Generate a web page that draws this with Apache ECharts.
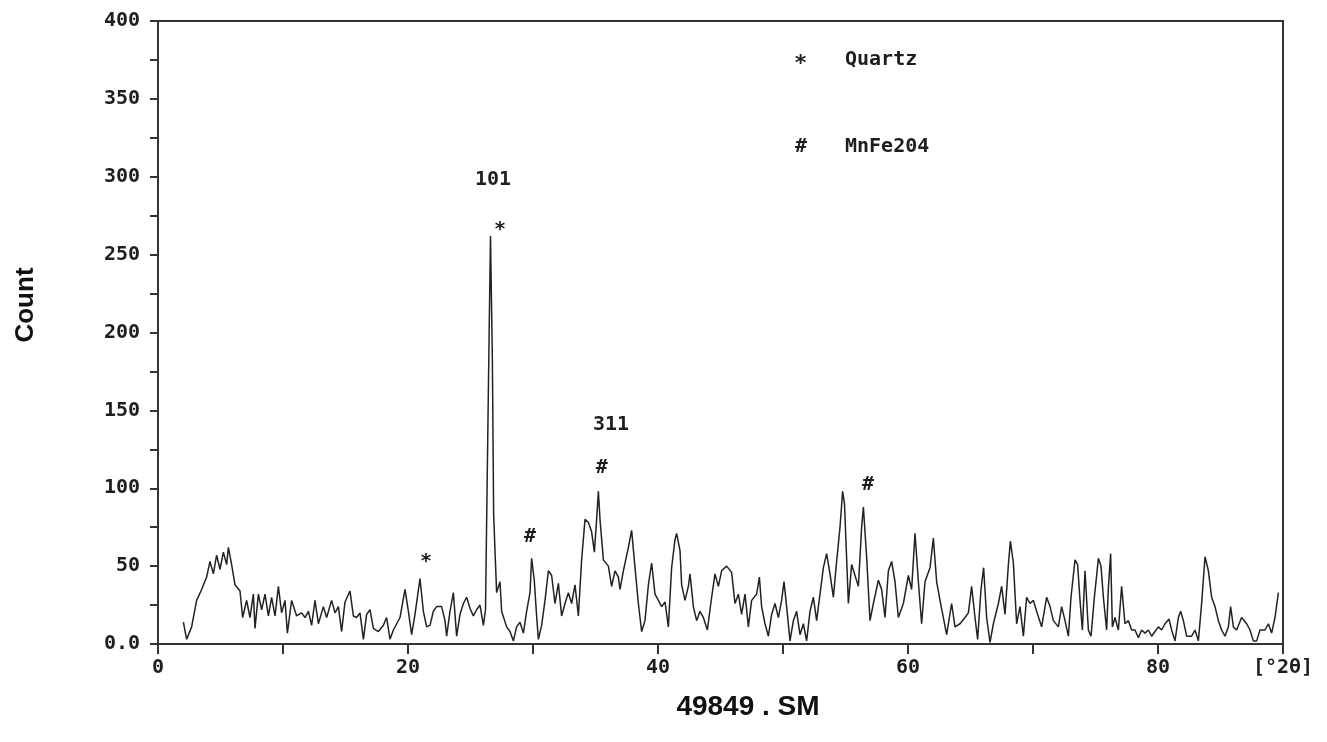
<html>
<head>
    <meta charset="utf-8" />
    <script src="https://cdn.jsdelivr.net/npm/echarts@6/dist/echarts.min.js"></script>
    <style>
        body { margin: 0; background: #fff; }
    </style>
</head>
<body>
    <div id="xrd" style="width: 1327px;height:742px;"></div>

    <script>
        // 2theta positions (deg) and counts
        var twoTheta = [
            2.03, 2.29, 2.69, 3.09, 3.49, 3.89, 4.16, 4.43, 4.69, 4.96, 5.23, 5.49, 5.63, 5.89, 6.16, 6.56, 6.77, 7.09, 7.36, 7.63,
            7.76, 8.03, 8.29, 8.56, 8.83, 9.09, 9.36, 9.63, 9.89, 10.16, 10.35, 10.69, 11.09, 11.49, 11.76, 12.03, 12.29, 12.56, 12.83, 13.23,
            13.49, 13.89, 14.16, 14.43, 14.69, 14.96, 15.36, 15.63, 15.89, 16.16, 16.43, 16.69, 16.96, 17.23, 17.63, 18.03, 18.29, 18.56, 18.83, 19.36,
            19.76, 20.03, 20.29, 20.56, 20.96, 21.23, 21.49, 21.76, 22.03, 22.29, 22.69, 22.96, 23.09, 23.36, 23.63, 23.89, 24.16, 24.43, 24.69, 24.96,
            25.23, 25.49, 25.76, 26.03, 26.2, 26.3, 26.5, 26.6, 26.75, 26.85, 26.95, 27.09, 27.36, 27.49, 27.89, 28.16, 28.43, 28.69, 28.96, 29.23,
            29.49, 29.76, 29.89, 30.1, 30.29, 30.43, 30.69, 30.96, 31.23, 31.49, 31.76, 32.03, 32.29, 32.56, 32.83, 33.09, 33.36, 33.63, 33.89, 34.16,
            34.43, 34.69, 34.91, 35.09, 35.23, 35.36, 35.63, 36.03, 36.29, 36.56, 36.83, 36.96, 37.23, 37.63, 37.89, 38.16, 38.43, 38.69, 38.96, 39.23,
            39.49, 39.76, 40.03, 40.29, 40.56, 40.83, 41.09, 41.36, 41.49, 41.76, 41.89, 42.16, 42.43, 42.56, 42.83, 43.09, 43.36, 43.63, 43.95, 44.29,
            44.56, 44.83, 45.09, 45.49, 45.89, 46.16, 46.43, 46.69, 46.96, 47.23, 47.49, 47.89, 48.11, 48.29, 48.56, 48.83, 49.09, 49.36, 49.63, 49.89,
            50.08, 50.29, 50.56, 50.83, 51.09, 51.36, 51.63, 51.89, 52.16, 52.43, 52.69, 52.96, 53.23, 53.49, 53.76, 54.03, 54.29, 54.56, 54.77, 54.92,
            55.23, 55.49, 55.76, 56.03, 56.29, 56.43, 56.69, 56.96, 57.23, 57.63, 57.89, 58.16, 58.43, 58.69, 58.96, 59.23, 59.63, 60.03, 60.29, 60.56,
            60.83, 61.09, 61.36, 61.76, 62.03, 62.29, 62.56, 62.83, 63.09, 63.49, 63.76, 64.16, 64.56, 64.83, 65.09, 65.36, 65.57, 65.84, 66.05, 66.29,
            66.56, 66.83, 67.23, 67.49, 67.76, 68.03, 68.19, 68.43, 68.69, 68.96, 69.23, 69.49, 69.76, 70.03, 70.29, 70.69, 71.09, 71.36, 71.63, 72.03,
            72.29, 72.56, 72.83, 73.04, 73.36, 73.57, 73.76, 73.95, 74.16, 74.43, 74.64, 74.91, 75.23, 75.44, 75.63, 75.89, 76.03, 76.21, 76.35, 76.56,
            76.83, 77.09, 77.36, 77.63, 77.89, 78.16, 78.43, 78.69, 78.96, 79.23, 79.49, 79.76, 80.03, 80.29, 80.56, 80.88, 81.09, 81.36, 81.63, 81.81,
            82.03, 82.29, 82.69, 82.96, 83.23, 83.49, 83.76, 84.03, 84.29, 84.56, 84.83, 85.09, 85.36, 85.63, 85.81, 86.03, 86.29, 86.69, 87.09, 87.36,
            87.63, 87.89, 88.16, 88.56, 88.83, 89.09, 89.36, 89.63
        ];
        var counts = [
            14, 3, 11, 28, 35, 43, 53, 45, 57, 48, 59, 51, 62, 51, 38, 34, 17, 28, 17, 32,
            10, 32, 22, 32, 18, 30, 18, 37, 20, 28, 7, 28, 18, 20, 17, 21, 12, 28, 13, 24,
            17, 28, 20, 24, 8, 27, 34, 18, 17, 20, 3, 19, 22, 10, 8, 12, 17, 3, 9, 17,
            35, 21, 6, 19, 42, 21, 11, 12, 21, 24, 24, 15, 5, 21, 33, 5, 19, 26, 30, 23,
            18, 22, 25, 12, 22, 84, 205, 262, 182, 84, 62, 33, 40, 21, 11, 8, 2, 11, 14, 7,
            21, 33, 55, 41, 18, 3, 12, 28, 47, 44, 26, 39, 18, 26, 33, 26, 38, 18, 54, 80,
            78, 72, 59, 80, 98, 80, 54, 50, 37, 47, 43, 35, 47, 62, 73, 49, 26, 8, 15, 38,
            52, 32, 28, 24, 27, 11, 49, 67, 71, 60, 38, 28, 37, 45, 24, 15, 21, 17, 9, 30,
            45, 37, 47, 50, 46, 26, 32, 19, 32, 11, 28, 32, 43, 24, 13, 5, 19, 26, 17, 28,
            40, 24, 2, 15, 21, 6, 13, 2, 21, 30, 15, 32, 49, 58, 45, 30, 53, 75, 98, 90,
            26, 51, 44, 37, 75, 88, 56, 15, 26, 41, 35, 17, 47, 53, 40, 17, 26, 44, 35, 71,
            40, 13, 40, 49, 68, 40, 28, 17, 6, 26, 11, 13, 17, 20, 37, 17, 3, 35, 49, 17,
            1, 13, 26, 37, 19, 51, 66, 52, 13, 24, 5, 30, 26, 28, 21, 11, 30, 24, 15, 11,
            24, 15, 5, 30, 54, 51, 28, 9, 47, 9, 5, 30, 55, 50, 30, 9, 36, 58, 11, 17,
            9, 37, 13, 15, 9, 9, 4, 9, 7, 9, 5, 8, 11, 9, 13, 16, 9, 2, 17, 21,
            15, 5, 5, 9, 2, 26, 56, 47, 30, 24, 15, 9, 5, 11, 24, 11, 9, 17, 13, 9,
            2, 2, 9, 9, 13, 7, 17, 33
        ];

        // peak markers / hkl labels
        var annoX = [21.44, 27.36, 26.8, 29.76, 35.5, 36.24, 56.8];
        var annoY = [56, 269, 298, 69, 113, 141, 102];
        var annoText = ['*', '*', '101', '#', '#', '311', '#'];

        var yTicks = [0, 50, 100, 150, 200, 250, 300, 350, 400];
        var xUnit = '[°2θ]';

        var monoFont = 'DejaVu Sans Mono';
        var ink = '#1e1e1e';

        var lineData = []
        for (var i = 0; i < twoTheta.length; i++) {
            lineData.push([twoTheta[i], counts[i]])
        }
        var annoData = []
        for (var j = 0; j < annoX.length; j++) {
            // the mono asterisk sits high in its box, nudge it down a little
            var dy = annoText[j] === '*' ? 5 : 0
            annoData.push({ value: [annoX[j], annoY[j]], name: annoText[j], label: { offset: [0, dy] } })
        }

        var option = {
            animation: false,
            backgroundColor: '#fff',
            grid: {
                left: 158,
                top: 21,
                right: 44,
                bottom: 98,
                show: true,
                borderColor: '#333',
                borderWidth: 2,
                containLabel: false,
                outerBoundsMode: 'none'
            },
            xAxis: {
                type: 'value',
                min: 0,
                max: 90,
                interval: 10,
                axisLine: { show: true, lineStyle: { color: '#333', width: 2 } },
                axisTick: { show: true, length: 10, lineStyle: { color: '#333', width: 2 } },
                splitLine: { show: false },
                axisLabel: {
                    margin: 14,
                    showMinLabel: true,
                    showMaxLabel: true,
                    hideOverlap: false,
                    color: ink,
                    fontFamily: monoFont,
                    fontWeight: 'bold',
                    fontSize: 20,
                    formatter: function (v) {
                        if (v === 90) return xUnit
                        return v % 20 === 0 ? String(v) : ''
                    }
                }
            },
            yAxis: {
                type: 'value',
                min: yTicks[0],
                max: yTicks[yTicks.length - 1],
                interval: 50,
                axisLine: { show: true, lineStyle: { color: '#333', width: 2 } },
                axisTick: { show: true, length: 8, lineStyle: { color: '#333', width: 2 } },
                minorTick: { show: true, splitNumber: 2, length: 8, lineStyle: { color: '#333', width: 2 } },
                splitLine: { show: false },
                axisLabel: {
                    margin: 18,
                    color: ink,
                    fontFamily: monoFont,
                    fontWeight: 'bold',
                    fontSize: 20,
                    formatter: function (v) { return v === 0 ? '0.0' : String(v) }
                }
            },
            series: [
                {
                    name: 'pattern',
                    type: 'line',
                    data: lineData,
                    symbol: 'none',
                    lineStyle: { color: '#222', width: 1.5 }
                },
                {
                    name: 'markers',
                    type: 'scatter',
                    data: annoData,
                    symbolSize: 0,
                    silent: true,
                    itemStyle: { opacity: 1 },
                    label: {
                        show: true,
                        position: [0, 0],
                        align: 'center',
                        verticalAlign: 'middle',
                        formatter: '{b}',
                        color: ink,
                        textBorderWidth: 0,
                        fontFamily: monoFont,
                        fontWeight: 'bold',
                        fontSize: 20
                    }
                }
            ],
            graphic: [
                // legend block
                { type: 'text', left: 794, top: 53, style: { text: '*', fill: ink, font: 'bold 22px "DejaVu Sans Mono"' } },
                { type: 'text', left: 845, top: 50, style: { text: 'Quartz', fill: ink, font: 'bold 20px "DejaVu Sans Mono"' } },
                { type: 'text', left: 795, top: 137, style: { text: '#', fill: ink, font: 'bold 20px "DejaVu Sans Mono"' } },
                { type: 'text', left: 845, top: 137, style: { text: 'MnFe204', fill: ink, font: 'bold 20px "DejaVu Sans Mono"' } },
                // axis titles
                {
                    type: 'text', x: 26, y: 305, rotation: Math.PI / 2,
                    style: { text: 'Count', fill: '#111', font: 'bold 26px "Liberation Sans"', align: 'center', verticalAlign: 'middle' }
                },
                {
                    type: 'text', x: 748, y: 707,
                    style: { text: '49849 . SM', fill: '#111', font: 'bold 28px "Liberation Sans"', align: 'center', verticalAlign: 'middle' }
                }
            ]
        };

        var chart = echarts.init(document.getElementById('xrd'))
        chart.setOption(option);
    </script>
</body>
</html>
